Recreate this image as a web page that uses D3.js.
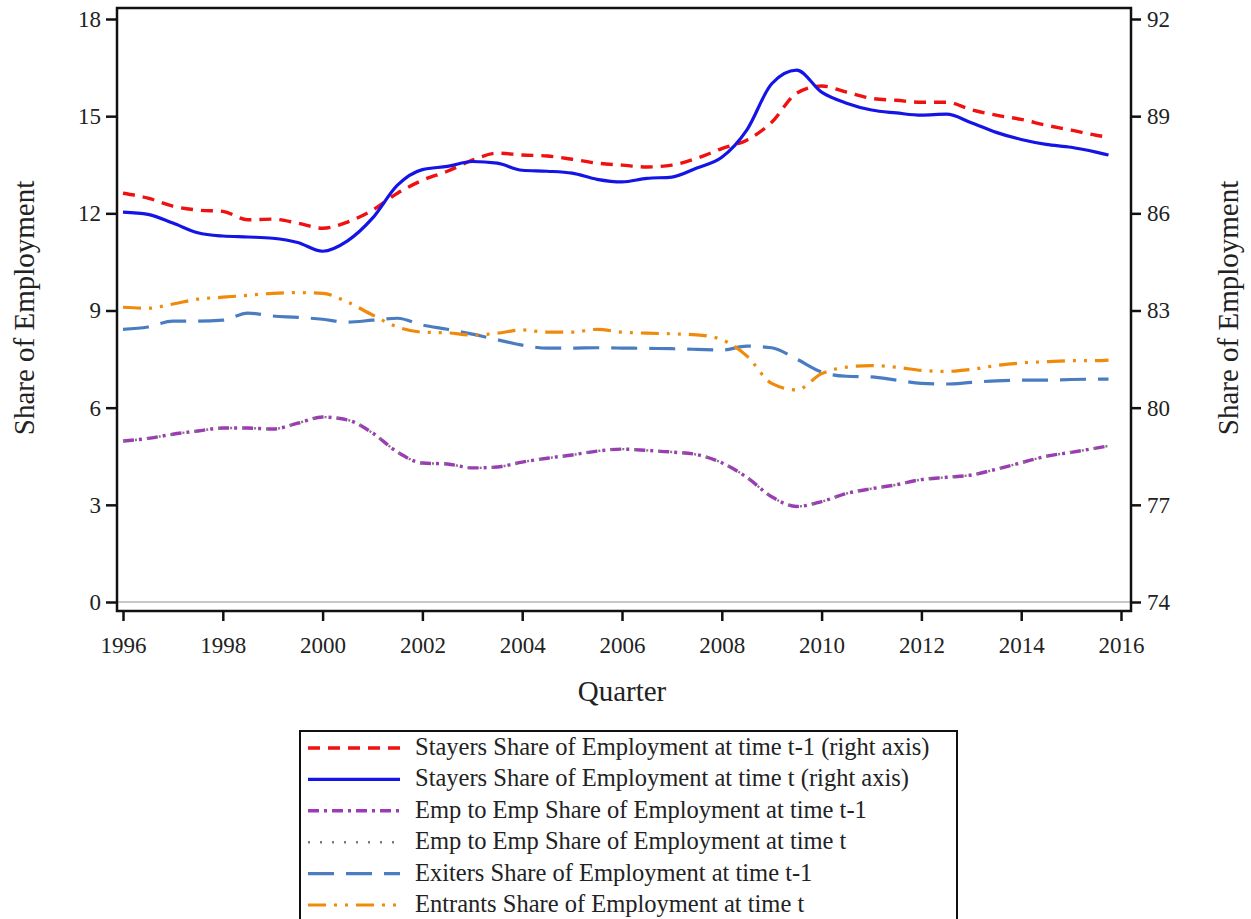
<!DOCTYPE html>
<html>
<head>
<meta charset="utf-8">
<script src="https://cdn.jsdelivr.net/npm/d3@7"></script>
<style>
  body { margin: 0; background: #fff; }
  text { font-family: "Liberation Serif", "Times New Roman", serif; fill: #222; }
</style>
</head>
<body>
<svg width="1251" height="919"></svg>
<script>
// quarters (decimal years), half-year steps plus the last quarter
const quarters = [1996, 1996.5, 1997, 1997.5, 1998, 1998.5, 1999, 1999.5, 2000, 2000.5,
  2001, 2001.5, 2002, 2002.5, 2003, 2003.5, 2004, 2004.5, 2005, 2005.5,
  2006, 2006.5, 2007, 2007.5, 2008, 2008.5, 2009, 2009.5, 2010, 2010.5,
  2011, 2011.5, 2012, 2012.5, 2013, 2013.5, 2014, 2014.5, 2015, 2015.5, 2015.75];

// right axis series
const stayersPrev = [86.62, 86.47, 86.22, 86.1, 86.06, 85.8, 85.82, 85.7, 85.54, 85.73,
  86.1, 86.62, 87.02, 87.3, 87.64, 87.86, 87.8, 87.77, 87.67, 87.55,
  87.49, 87.43, 87.49, 87.7, 88.0, 88.26, 88.81, 89.71, 89.93, 89.74,
  89.55, 89.49, 89.43, 89.43, 89.2, 89.03, 88.9, 88.72, 88.57, 88.41, 88.35];
const stayersNow = [86.04, 85.97, 85.7, 85.4, 85.3, 85.27, 85.23, 85.1, 84.83, 85.15,
  85.85, 86.87, 87.35, 87.45, 87.6, 87.55, 87.33, 87.3, 87.24, 87.05,
  86.97, 87.08, 87.12, 87.4, 87.73, 88.57, 90.0, 90.42, 89.74, 89.4,
  89.19, 89.1, 89.03, 89.06, 88.8, 88.5, 88.28, 88.13, 88.04, 87.89, 87.8];

// left axis series
const empPrev = [4.97, 5.05, 5.18, 5.28, 5.37, 5.37, 5.34, 5.52, 5.71, 5.62,
  5.22, 4.63, 4.29, 4.26, 4.14, 4.17, 4.32, 4.44, 4.54, 4.66,
  4.72, 4.68, 4.63, 4.55, 4.3, 3.85, 3.25, 2.95, 3.1, 3.35,
  3.5, 3.62, 3.78, 3.85, 3.92, 4.1, 4.3, 4.5, 4.62, 4.75, 4.82];
const empNow = [4.97, 5.05, 5.18, 5.28, 5.37, 5.37, 5.34, 5.52, 5.71, 5.62,
  5.22, 4.63, 4.29, 4.26, 4.14, 4.17, 4.32, 4.44, 4.54, 4.66,
  4.72, 4.68, 4.63, 4.55, 4.3, 3.85, 3.25, 2.95, 3.1, 3.35,
  3.5, 3.62, 3.78, 3.85, 3.92, 4.1, 4.3, 4.5, 4.62, 4.75, 4.82];
const exiters = [8.42, 8.49, 8.67, 8.67, 8.7, 8.92, 8.83, 8.79, 8.73, 8.64,
  8.7, 8.76, 8.55, 8.42, 8.27, 8.1, 7.93, 7.84, 7.84, 7.85,
  7.84, 7.83, 7.82, 7.8, 7.78, 7.9, 7.85, 7.5, 7.1, 6.97,
  6.95, 6.85, 6.75, 6.73, 6.78, 6.83, 6.85, 6.85, 6.87, 6.88, 6.88];
const entrants = [9.1, 9.07, 9.2, 9.35, 9.41, 9.47, 9.53, 9.55, 9.53, 9.26,
  8.86, 8.49, 8.33, 8.31, 8.24, 8.3, 8.4, 8.33, 8.33, 8.42,
  8.33, 8.3, 8.28, 8.25, 8.1, 7.6, 6.75, 6.55, 7.05, 7.25,
  7.3, 7.25, 7.15, 7.12, 7.18, 7.3, 7.38, 7.42, 7.45, 7.45, 7.47];

const xTicks = [1996, 1998, 2000, 2002, 2004, 2006, 2008, 2010, 2012, 2014, 2016];
const leftTicks = [0, 3, 6, 9, 12, 15, 18];
const rightTicks = [74, 77, 80, 83, 86, 89, 92];

const svg = d3.select('svg');
svg.append('rect').attr('width', 1251).attr('height', 919).attr('fill', '#fff');

const frame = { left: 117, right: 1131, top: 8, bottom: 611 };

const x = d3.scaleLinear().domain([1996, 2016]).range([123, 1121]);
const yL = d3.scaleLinear().domain([0, 18]).range([602, 19]);
const yR = d3.scaleLinear().domain([74, 92]).range([602, 19]);

// zero reference line
svg.append('line')
  .attr('x1', frame.left).attr('x2', frame.right)
  .attr('y1', yL(0)).attr('y2', yL(0))
  .attr('stroke', '#c8c8c8').attr('stroke-width', 2);

const series = [
  { name: 'Stayers Share of Employment at time t-1 (right axis)', values: stayersPrev, y: yR,
    color: '#f01010', width: 3.4, dash: '12,8' },
  { name: 'Stayers Share of Employment at time t (right axis)', values: stayersNow, y: yR,
    color: '#1414e6', width: 3.2, dash: null },
  { name: 'Emp to Emp Share of Employment at time t-1', values: empPrev, y: yL,
    color: '#9b3cb4', width: 3.4, dash: '11,5,3,5' },
  { name: 'Emp to Emp Share of Employment at time t', values: empNow, y: yL,
    color: '#7a7a7a', width: 2.4, dash: '2,10' },
  { name: 'Exiters Share of Employment at time t-1', values: exiters, y: yL,
    color: '#4a7cc2', width: 3.2, dash: '26,12' },
  { name: 'Entrants Share of Employment at time t', values: entrants, y: yL,
    color: '#f08a0a', width: 3.2, dash: '18,8,3,8,3,8' }
];

// draw order: lower lines first, stayers last
const drawOrder = [4, 5, 2, 3, 0, 1];
drawOrder.forEach((i) => {
  const s = series[i];
  const line = d3.line()
    .x((d, j) => x(quarters[j]))
    .y((d) => s.y(d))
    .curve(d3.curveMonotoneX);
  svg.append('path')
    .datum(s.values)
    .attr('d', line)
    .attr('fill', 'none')
    .attr('stroke', s.color)
    .attr('stroke-width', s.width)
    .attr('stroke-dasharray', s.dash);
});

// frame
svg.append('rect')
  .attr('x', frame.left).attr('y', frame.top)
  .attr('width', frame.right - frame.left).attr('height', frame.bottom - frame.top)
  .attr('fill', 'none').attr('stroke', '#111').attr('stroke-width', 2.5);

// axes
const fontSize = '23px';
const leftAxis = svg.append('g')
  .attr('transform', `translate(${frame.left},0)`)
  .call(d3.axisLeft(yL).tickValues(leftTicks).tickSize(11).tickSizeOuter(0).tickPadding(5));
const rightAxis = svg.append('g')
  .attr('transform', `translate(${frame.right},0)`)
  .call(d3.axisRight(yR).tickValues(rightTicks).tickSize(10).tickSizeOuter(0).tickPadding(6));
const bottomAxis = svg.append('g')
  .attr('transform', `translate(0,${frame.bottom})`)
  .call(d3.axisBottom(x).tickValues(xTicks).tickFormat(d3.format('d')).tickSize(10).tickSizeOuter(0).tickPadding(16));

[leftAxis, rightAxis, bottomAxis].forEach((g) => {
  g.select('.domain').remove();
  g.selectAll('.tick line').attr('stroke', '#111').attr('stroke-width', 2.5);
  g.selectAll('.tick text')
    .attr('font-family', '"Liberation Serif", serif')
    .attr('font-size', fontSize)
    .attr('fill', '#222');
});

// axis titles
svg.append('text')
  .attr('transform', 'translate(34,308) rotate(-90)')
  .attr('text-anchor', 'middle')
  .attr('font-size', '29px')
  .text('Share of Employment');
svg.append('text')
  .attr('transform', 'translate(1238,308) rotate(-90)')
  .attr('text-anchor', 'middle')
  .attr('font-size', '29px')
  .text('Share of Employment');
svg.append('text')
  .attr('x', 622).attr('y', 701)
  .attr('text-anchor', 'middle')
  .attr('font-size', '29px')
  .text('Quarter');

// legend
const legend = svg.append('g').attr('transform', 'translate(300,731)');
legend.append('rect')
  .attr('x', 0).attr('y', 0).attr('width', 657).attr('height', 200)
  .attr('fill', '#fff').attr('stroke', '#111').attr('stroke-width', 2);

series.forEach((s, i) => {
  const row = legend.append('g').attr('transform', `translate(0,${17 + i * 31.4})`);
  row.append('line')
    .attr('x1', 8).attr('x2', 100).attr('y1', 0).attr('y2', 0)
    .attr('stroke', s.color).attr('stroke-width', s.width)
    .attr('stroke-dasharray', s.dash);
  row.append('text')
    .attr('x', 115).attr('y', 7)
    .attr('font-size', '24.5px')
    .text(s.name);
});
</script>
</body>
</html>
